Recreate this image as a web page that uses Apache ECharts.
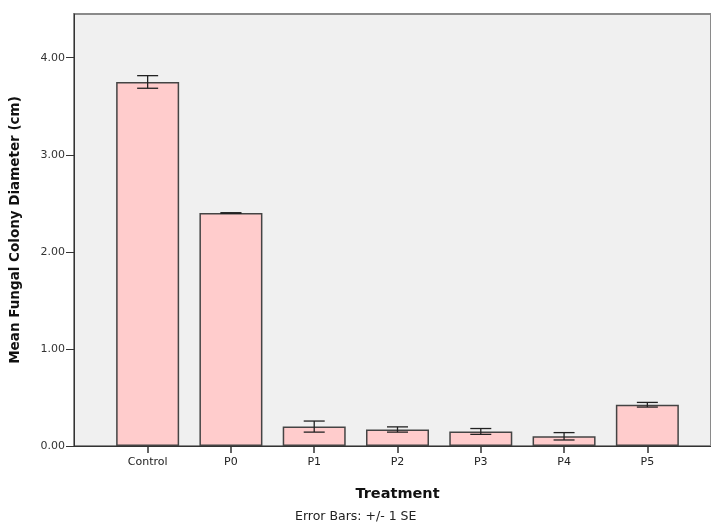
<!DOCTYPE html>
<html><head><meta charset="utf-8">
<script src="https://cdn.jsdelivr.net/npm/echarts@6/dist/echarts.min.js"></script>
<style>html,body{margin:0;padding:0;background:#fff}#c{width:711px;height:524px}</style>
</head><body><div id="c"></div>
<script>
const categories = ['Control','P0','P1','P2','P3','P4','P5'];
const means = [3.75, 2.40, 0.20, 0.17, 0.15, 0.10, 0.425];
const se = [0.065, 0.003, 0.057, 0.027, 0.03, 0.038, 0.024];
const yMax = 4.45;

const chart = echarts.init(document.getElementById('c'));
const errData = means.map((v, i) => [i, v - se[i], v + se[i]]);
const font = 'DejaVu Sans, sans-serif';
chart.setOption({
  animation: false,
  title: {text: 'Error Bars: +/- 1 SE', left: 295, top: 510, padding: 0,
    textStyle: {fontFamily: font, fontSize: 12.5, fontWeight: 'normal', color: '#222'}},
  grid: [
    {left: 74, top: 14, width: 648, height: 432, show: true,
      backgroundColor: '#f0f0f0', borderColor: '#8a8a8a', borderWidth: 2},
    {left: 106, top: 14, width: 583, height: 432}
  ],
  xAxis: [
    {gridIndex: 0, type: 'value', min: 0, max: 1,
      axisLine: {show: true, onZero: false, lineStyle: {color: '#333', width: 1}},
      axisTick: {show: false}, axisLabel: {show: false}, splitLine: {show: false}},
    {gridIndex: 1, type: 'category', data: categories, boundaryGap: true,
      name: 'Treatment', nameLocation: 'middle', nameGap: 41,
      nameTextStyle: {fontFamily: font, fontSize: 14.5, fontWeight: 'bold', color: '#111'},
      axisLine: {show: true, onZero: false, lineStyle: {color: '#333', width: 1}},
      axisTick: {show: true, interval: 0, inside: false, alignWithLabel: true, length: 7, lineStyle: {color: '#333', width: 1.5}},
      axisLabel: {interval: 0, fontFamily: font, fontSize: 11, color: '#222', margin: 11},
      splitLine: {show: false}}
  ],
  yAxis: [
    {gridIndex: 0, type: 'value', min: 0, max: 1,
      axisLine: {show: true, lineStyle: {color: '#333', width: 1}},
      axisTick: {show: false}, axisLabel: {show: false}, splitLine: {show: false}},
    {gridIndex: 1, type: 'value', min: 0, max: yMax, interval: 1, offset: 32,
      name: 'Mean Fungal Colony Diameter (cm)', nameLocation: 'middle', nameGap: 52,
      nameTextStyle: {fontFamily: font, fontSize: 13.5, fontWeight: 'bold', color: '#111'},
      axisLine: {show: false},
      axisTick: {show: true, length: 8, lineStyle: {color: '#333'}},
      axisLabel: {showMaxLabel: false, formatter: v => (Math.abs(v - Math.round(v)) < 1e-9 ? v.toFixed(2) : ''),
        fontFamily: font, fontSize: 11, color: '#333', margin: 9},
      splitLine: {show: false}}
  ],
  series: [
    {type: 'bar', xAxisIndex: 1, yAxisIndex: 1, data: means, barWidth: 63,
      itemStyle: {color: '#ffcccc', borderColor: '#444', borderWidth: 1.5}},
    {type: 'custom', xAxisIndex: 1, yAxisIndex: 1, data: errData, z: 10,
      renderItem: (params, api) => {
        const x = api.value(0);
        const lo = api.coord([x, api.value(1)]);
        const hi = api.coord([x, api.value(2)]);
        const w = 10.5;
        const st = {stroke: '#222', lineWidth: 1.3};
        return {type: 'group', children: [
          {type: 'line', shape: {x1: lo[0], y1: lo[1], x2: hi[0], y2: hi[1]}, style: st},
          {type: 'line', shape: {x1: lo[0]-w, y1: lo[1], x2: lo[0]+w, y2: lo[1]}, style: st},
          {type: 'line', shape: {x1: hi[0]-w, y1: hi[1], x2: hi[0]+w, y2: hi[1]}, style: st}
        ]};
      }}
  ]
});
</script></body></html>
